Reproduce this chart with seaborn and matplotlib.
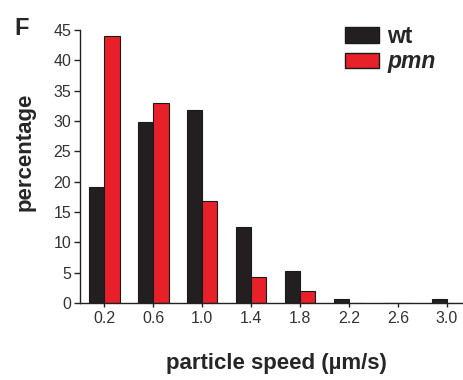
import matplotlib
matplotlib.use("Agg")
import matplotlib.pyplot as plt
import seaborn as sns
import pandas as pd
from matplotlib.patches import Patch

speeds = ["0.2", "0.6", "1.0", "1.4", "1.8", "2.2", "2.6", "3.0"]
wt = [19.1, 29.8, 31.8, 12.5, 5.3, 0.7, 0.0, 0.7]
pmn = [44.0, 33.0, 16.8, 4.3, 1.9, 0.0, 0.0, 0.0]
groups = ["wt", "pmn"]
colors = ["#231f20", "#e8202a"]
yticks = [0, 5, 10, 15, 20, 25, 30, 35, 40, 45]

df = pd.DataFrame({
    "speed": speeds * 2,
    "pct": wt + pmn,
    "group": [groups[0]] * len(speeds) + [groups[1]] * len(speeds),
})

sns.set_style("ticks")
plt.rcParams["font.family"] = ["Liberation Sans", "DejaVu Sans"]

fig = plt.figure(figsize=(4.63, 3.80), dpi=100)
ax = fig.add_axes([0.172, 0.203, 0.828, 0.718])
sns.barplot(data=df, x="speed", y="pct", hue="group", order=speeds,
            hue_order=groups, palette=colors, width=0.62, ax=ax,
            edgecolor="#1a1a1a", linewidth=0.8, legend=False, saturation=1)

ax.set_ylim(0, 45)
ax.set_yticks(yticks)
ax.set_xlim(-0.507, 7.33)
sns.despine(ax=ax)
for s in ["left", "bottom"]:
    ax.spines[s].set_linewidth(1.0)
    ax.spines[s].set_color("#222222")
ax.tick_params(axis="both", direction="out", length=4, width=1.0,
               colors="#222222", labelsize=11.5, labelcolor="#333333")
ax.tick_params(axis="x", length=3, pad=3)
ax.tick_params(axis="y", pad=2)

ax.set_xlabel("particle speed (µm/s)", fontsize=16, fontweight="bold", labelpad=19)
ax.set_ylabel("percentage", fontsize=16, fontweight="bold", labelpad=13)
ax.xaxis.label.set_x(0.514)
ax.yaxis.label.set_y(0.553)

fig.text(0.032, 0.925, "F", fontsize=17, fontweight="bold", ha="left", va="center")

handles = [Patch(facecolor=colors[0], edgecolor="#1a1a1a"),
           Patch(facecolor=colors[1], edgecolor="#1a1a1a")]
leg = fig.legend(handles, groups, loc="upper left",
                 bbox_to_anchor=(345 / 463, 1 - 25 / 380),
                 frameon=False, fontsize=16.5, handlelength=1.5, handleheight=0.65,
                 handletextpad=0.35, labelspacing=0.1, borderaxespad=0, borderpad=0)
for t in leg.get_texts():
    t.set_fontweight("bold")
leg.get_texts()[1].set_fontstyle("italic")

fig.savefig("out.png", dpi=100)
